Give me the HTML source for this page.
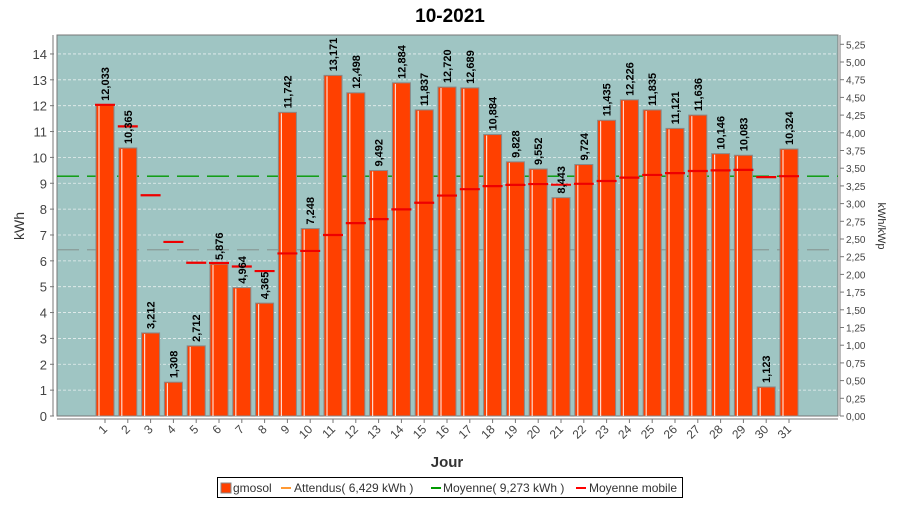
<!DOCTYPE html>
<html><head><meta charset="utf-8"><style>
body{margin:0;background:#fff;width:900px;height:500px;overflow:hidden;font-family:"Liberation Sans",sans-serif}
svg text{font-family:"Liberation Sans",sans-serif}
</style></head><body>
<svg id="c" width="900" height="500" xmlns="http://www.w3.org/2000/svg">
<text x="450" y="22" text-anchor="middle" font-size="19" font-weight="bold">10-2021</text>
<rect x="57" y="35" width="781" height="381" fill="#9fc5c3" stroke="#777"/>
<g id="g"></g>
<text x="24" y="226" font-size="14" fill="#333" text-anchor="middle" transform="rotate(-90 24 226)">kWh</text>
<text x="878" y="226" font-size="11" fill="#333" text-anchor="middle" transform="rotate(90 878 226)">kWh/kWp</text>
<text x="447" y="467" font-size="15" font-weight="bold" fill="#333" text-anchor="middle">Jour</text>
<g>
<rect x="217.5" y="477.5" width="465" height="20" fill="#fff" stroke="#000"/>
<rect x="221" y="483" width="10" height="10" fill="#ff4000" stroke="#888"/>
<text x="233" y="492" font-size="12" fill="#333">gmosol</text>
<rect x="281" y="487" width="10" height="2" fill="#ff9933"/>
<text x="294" y="492" font-size="12" fill="#333">Attendus( 6,429 kWh )</text>
<rect x="431" y="487" width="10" height="2" fill="#009900"/>
<text x="443" y="492" font-size="12" fill="#333">Moyenne( 9,273 kWh )</text>
<rect x="576" y="487" width="10" height="2" fill="#ff0000"/>
<text x="589" y="492" font-size="12" fill="#333">Moyenne mobile</text>
</g>
</svg>
<script>
const days=[1,2,3,4,5,6,7,8,9,10,11,12,13,14,15,16,17,18,19,20,21,22,23,24,25,26,27,28,29,30,31];
const values=[12.033,10.365,3.212,1.308,2.712,5.876,4.964,4.365,11.742,7.248,13.171,12.498,9.492,12.884,11.837,12.720,12.689,10.884,9.828,9.552,8.443,9.724,11.435,12.226,11.835,11.121,11.636,10.146,10.083,1.123,10.324];
const labels=["12,033","10,365","3,212","1,308","2,712","5,876","4,964","4,365","11,742","7,248","13,171","12,498","9,492","12,884","11,837","12,720","12,689","10,884","9,828","9,552","8,443","9,724","11,435","12,226","11,835","11,121","11,636","10,146","10,083","1,123","10,324"];
const movingAvg=[12.033,11.199,8.537,6.730,5.926,5.918,5.782,5.605,6.287,6.383,6.999,7.457,7.613,7.989,8.245,8.525,8.770,8.888,8.938,8.969,8.944,8.979,9.086,9.217,9.322,9.391,9.474,9.498,9.518,9.238,9.273];
const yTicks=[0,1,2,3,4,5,6,7,8,9,10,11,12,13,14];
const y2Ticks=["0,00","0,25","0,50","0,75","1,00","1,25","1,50","1,75","2,00","2,25","2,50","2,75","3,00","3,25","3,50","3,75","4,00","4,25","4,50","4,75","5,00","5,25"];
const expected=6.429, average=9.273;
const NS="http://www.w3.org/2000/svg";
const g=document.getElementById('g');
const y=v=>416-v*25.86;
const y2=i=>416-i*17.7;
const x=d=>105+(d-1)*22.8;
function mk(t,a,p){const e=document.createElementNS(NS,t);for(const k in a)e.setAttribute(k,a[k]);(p||g).appendChild(e);return e;}
yTicks.forEach(t=>{
 if(t>0){const l=mk('line',{x1:58,x2:837,y1:y(t),y2:y(t),stroke:'#e8f0f0','stroke-dasharray':'3,2','stroke-width':0.8});
 
 }
 const tk=mk('line',{x1:50,x2:54,y1:y(t),y2:y(t),stroke:'#777'});
 const tx=mk('text',{x:47,y:y(t)+5,'font-size':13,fill:'#444','text-anchor':'end'});tx.textContent=t;
 
 
});
mk('line',{x1:53,x2:53,y1:35,y2:416,stroke:'#777'});
mk('line',{x1:840,x2:840,y1:35,y2:416,stroke:'#777'});
mk('line',{x1:57,x2:838,y1:419,y2:419,stroke:'#777'});
y2Ticks.forEach((t,i)=>{
 mk('line',{x1:840,x2:844,y1:y2(i),y2:y2(i),stroke:'#777'});
 const tx=mk('text',{x:846,y:y2(i)+4,'font-size':10,fill:'#444'});tx.textContent=t;
 
 
});
function hline(v,color,name){const l=mk('line',{x1:57,x2:838,y1:y(v),y2:y(v),stroke:color,'stroke-width':1.3,'stroke-dasharray':'22,8'});
 
 }
hline(expected,'#8a9a98','expected-line');
hline(average,'#009900','average-line');
days.forEach((d,i)=>{
 const v=values[i],cx=x(d);
 const b=mk('rect',{x:cx-9,y:y(v),width:18,height:416-y(v),fill:'#ff4000',stroke:'#888'});
 
 
 mk('line',{x1:cx-6,x2:cx-6,y1:y(v)+1,y2:416,stroke:'#fff','stroke-width':1.2,opacity:0.8});
 const m=mk('line',{x1:cx-10,x2:cx+10,y1:y(movingAvg[i]),y2:y(movingAvg[i]),stroke:'#ee0000','stroke-width':2.2});
 
 
 const lb=mk('text',{x:cx+4,y:y(v)-4,'font-size':11,'font-weight':'bold','font-family':'Liberation Serif, serif',transform:`rotate(-90 ${cx+4} ${y(v)-4})`});
 lb.textContent=labels[i];
 
 
 mk('line',{x1:cx,x2:cx,y1:419,y2:423,stroke:'#777'});
 const xl=mk('text',{x:cx+3,y:430,'font-size':12,fill:'#444','text-anchor':'end',transform:`rotate(-45 ${cx+3} 430)`});
 xl.textContent=d;
 
 
});
</script>
</body></html>
